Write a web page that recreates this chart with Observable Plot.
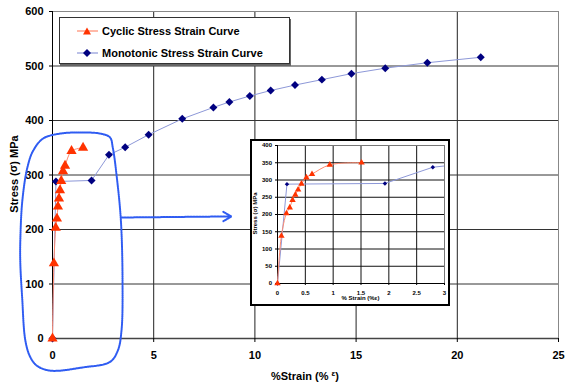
<!DOCTYPE html>
<html><head><meta charset="utf-8">
<script src="https://cdn.jsdelivr.net/npm/d3@7"></script>
<script src="https://cdn.jsdelivr.net/npm/@observablehq/plot@0.6"></script>
<style>
body{margin:0;background:#fff;}
#wrap{position:relative;width:565px;height:389px;font-family:"Liberation Sans",Arial,sans-serif;font-weight:bold;color:#000;overflow:hidden;}
#wrap svg{display:block;}
.abs{position:absolute;}
#legend{left:59px;top:17px;width:229px;height:45px;border:1px solid #333;box-shadow:1px 2px 0 #666;background:#fff;}
.lrow{position:absolute;left:0;height:14px;font-size:11px;line-height:14px;white-space:nowrap;}
.lrow svg{position:absolute;left:17px;top:2px;}
.lrow span{position:absolute;left:42px;top:0;}
#inset{left:250px;top:139px;width:196px;height:163px;border:2px solid #000;background:#fff;}
sup{font-size:8px;vertical-align:top;position:relative;top:-2px;}
</style></head><body><div id="wrap"></div><script>
// ---- data ----
const cyclicStrain = [0, 0.07, 0.16, 0.22, 0.27, 0.32, 0.37, 0.43, 0.52, 0.62, 0.94, 1.51];
const cyclicStress = [0, 138, 203, 220, 242, 257, 272, 289, 307, 317, 344, 350];
const monoStrain = [0, 0.17, 1.93, 2.79, 3.59, 4.75, 6.41, 7.95, 8.74, 9.75, 10.78, 11.98, 13.31, 14.77, 16.44, 18.52, 21.16];
const monoStress = [0, 288, 290, 337, 351, 374, 403, 424, 434, 445, 455, 465, 475, 486, 496, 506, 516];
const xTicks = [0, 5, 10, 15, 20, 25];
const yTicks = [0, 100, 200, 300, 400, 500, 600];
const insetXTicks = [0, 0.5, 1, 1.5, 2, 2.5, 3];
const insetYTicks = [0, 50, 100, 150, 200, 250, 300, 350, 400];
const seriesNames = ["Cyclic Stress Strain Curve", "Monotonic Stress Strain Curve"];
// hand-drawn annotation loop and arrow (in data units)
const loopX = [-1.59, -1.49, -1.24, -0.95, -0.46, 0.38, 1.36, 2.35, 2.84, 2.98, 3.18, 3.38, 3.46, 3.41, 3.23, 2.84, 1.51, -0.11, -0.77, -1.10, -1.34, -1.50, -1.59];
const loopY = [180, 253, 314, 345, 367, 376, 378, 376, 369, 350, 295, 216, 106, 15, -22, -43, -53, -59, -50, -34, -4, 76, 138];
const arrowFrom = [3.38, 222];
const arrowTo = [8.84, 224];

const cyclic = cyclicStrain.map((x, i) => ({x, y: cyclicStress[i]}));
const mono = monoStrain.map((x, i) => ({x, y: monoStress[i]}));
const loop = loopX.map((x, i) => ({x, y: loopY[i]}));

const BLUE_LINE = "#8d98d8", BLUE_DOT = "#000080";
const RED_LINE = "#ff8a6e", RED_DOT = "#ff3300";
const ANNOT = "#2f5cf2";
const FONT = "Liberation Sans, Arial, sans-serif";

const wrap = document.getElementById("wrap");

const main = Plot.plot({
  width: 565, height: 389,
  marginLeft: 52, marginRight: 7, marginTop: 11, marginBottom: 51,
  style: {fontFamily: FONT, fontSize: "11px", fontWeight: "bold", background: "transparent", overflow: "visible"},
  x: {domain: [0, 25]},
  y: {domain: [0, 600]},
  marks: [
    Plot.gridX(xTicks.filter(d => d > 0 && d < 25), {stroke: "#222", strokeOpacity: 1}),
    Plot.gridY(yTicks.filter(d => d > 0 && d < 600), {stroke: "#333", strokeOpacity: 1}),
    Plot.frame({stroke: "#888"}),
    Plot.ruleX([0], {stroke: "#000"}),
    Plot.ruleY([0], {stroke: "#444", strokeWidth: 1.5}),
    Plot.axisX(xTicks, {tickSize: 4, tickPadding: 9, label: null, fill: "#000"}),
    Plot.axisY(yTicks, {tickSize: 3, tickPadding: 6, label: null, fill: "#000"}),
    Plot.line(mono, {x: "x", y: "y", stroke: BLUE_LINE, strokeWidth: 1}),
    Plot.line(cyclic, {x: "x", y: "y", stroke: RED_LINE, strokeWidth: 1, curve: "catmull-rom"}),
    Plot.dot(mono, {x: "x", y: "y", symbol: "diamond2", r: 3.6, fill: BLUE_DOT, stroke: null}),
    Plot.dot(cyclic, {x: "x", y: "y", symbol: "triangle", r: 3.8, fill: RED_DOT, stroke: null}),
    Plot.line(loop, {x: "x", y: "y", curve: "catmull-rom-closed", stroke: ANNOT, strokeWidth: 2, strokeDasharray: "1.2,0.9"}),
    Plot.arrow([{x1: arrowFrom[0], y1: arrowFrom[1], x2: arrowTo[0], y2: arrowTo[1]}],
      {x1: "x1", y1: "y1", x2: "x2", y2: "y2", stroke: ANNOT, strokeWidth: 2, headLength: 7, strokeDasharray: "2,1"})
  ]
});
wrap.appendChild(main);

// axis titles
const xl = document.createElement("div");
xl.className = "abs";
xl.style.cssText = "left:52px;width:506px;top:369px;text-align:center;font-size:11px;line-height:14px;";
xl.innerHTML = "%Strain (% <sup>ε</sup>)";
wrap.appendChild(xl);
const yl = document.createElement("div");
yl.className = "abs";
yl.style.cssText = "left:-86px;width:200px;top:167px;height:14px;text-align:center;font-size:11px;line-height:14px;transform:rotate(-90deg);";
yl.innerHTML = "Stress (<sup style='font-size:11px;top:-1px'>σ</sup>) MPa";
wrap.appendChild(yl);

// legend
const legend = document.createElement("div");
legend.id = "legend"; legend.className = "abs";
[[RED_LINE, RED_DOT, "triangle"], [BLUE_LINE, BLUE_DOT, "diamond"]].forEach(([lc, dc, sym], i) => {
  const row = document.createElement("div");
  row.className = "lrow";
  row.style.top = (i === 0 ? 6 : 28) + "px";
  row.style.width = "229px";
  const shape = sym === "triangle"
    ? `<path d="M10,1.5 L14,8.5 L6,8.5 Z" fill="${dc}"/>`
    : `<path d="M10,1 L14,5 L10,9 L6,5 Z" fill="${dc}"/>`;
  row.innerHTML = `<svg width="21" height="10"><line x1="0" x2="21" y1="5" y2="5" stroke="${lc}" stroke-width="1.2"/>${shape}</svg><span>${seriesNames[i]}</span>`;
  legend.appendChild(row);
});
wrap.appendChild(legend);

// inset
const insetBox = document.createElement("div");
insetBox.id = "inset"; insetBox.className = "abs";
wrap.appendChild(insetBox);
const inset = Plot.plot({
  width: 196, height: 163,
  marginLeft: 25, marginRight: 4, marginTop: 4, marginBottom: 21,
  style: {fontFamily: FONT, fontSize: "6px", fontWeight: "bold", background: "#fff"},
  x: {domain: [0, 3]},
  y: {domain: [0, 400]},
  marks: [
    Plot.gridX(insetXTicks, {stroke: "#111", strokeOpacity: 1}),
    Plot.gridY(insetYTicks, {stroke: "#111", strokeOpacity: 1}),
    Plot.frame({stroke: "#777"}),
    Plot.ruleX([0], {stroke: "#000"}),
    Plot.ruleY([0], {stroke: "#000"}),
    Plot.axisX(insetXTicks, {tickSize: 2, tickPadding: 5, label: null, tickFormat: d => String(d), fill: "#000"}),
    Plot.axisY(insetYTicks, {tickSize: 2, tickPadding: 3.5, label: null, fill: "#000"}),
    Plot.line(mono, {x: "x", y: "y", stroke: BLUE_LINE, strokeWidth: 1, clip: true}),
    Plot.line(cyclic, {x: "x", y: "y", stroke: RED_LINE, strokeWidth: 1, curve: "catmull-rom", clip: true}),
    Plot.dot(mono.filter(d => d.x <= 3), {x: "x", y: "y", symbol: "diamond2", r: 2, fill: BLUE_DOT, stroke: null}),
    Plot.dot(cyclic, {x: "x", y: "y", symbol: "triangle", r: 2.4, fill: RED_DOT, stroke: null})
  ]
});
insetBox.appendChild(inset);
const ixl = document.createElement("div");
ixl.className = "abs";
ixl.style.cssText = "left:25px;width:167px;top:154px;text-align:center;font-size:6px;line-height:7px;";
ixl.innerHTML = "% Strain (%ε)";
insetBox.appendChild(ixl);
const iyl = document.createElement("div");
iyl.className = "abs";
iyl.style.cssText = "left:-47px;width:100px;top:69px;height:7px;text-align:center;font-size:6px;line-height:7px;transform:rotate(-90deg);";
iyl.innerHTML = "Stress (σ) MPa";
insetBox.appendChild(iyl);
</script></body></html>
